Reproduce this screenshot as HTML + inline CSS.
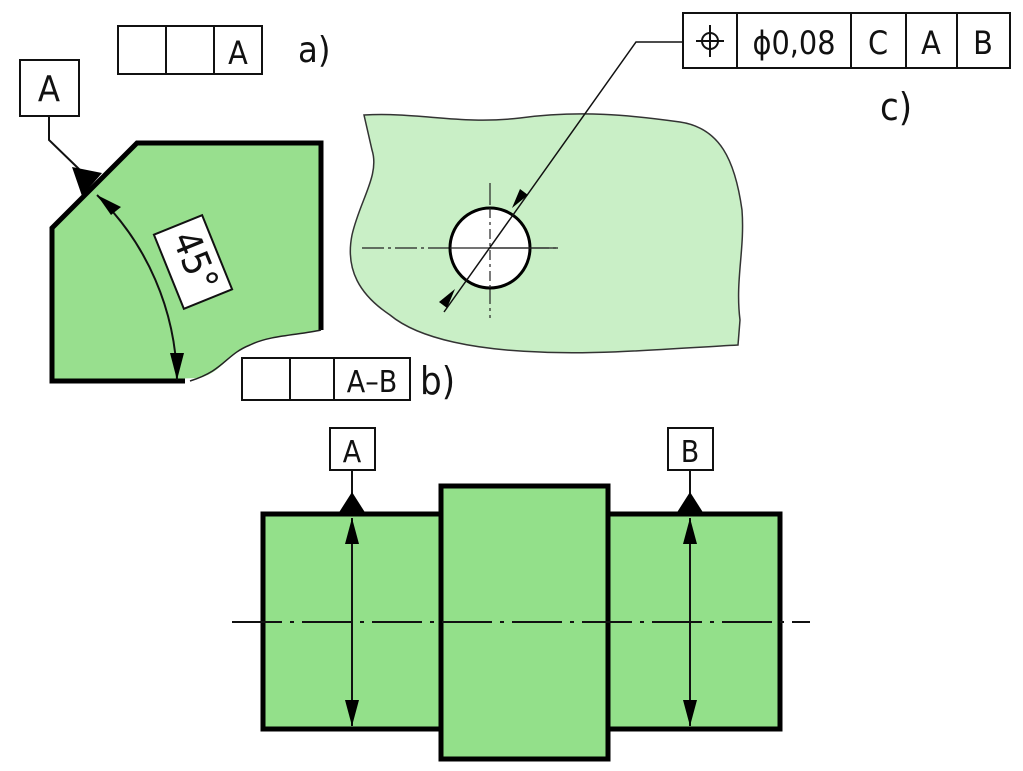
<!DOCTYPE html>
<html><head><meta charset="utf-8"><style>
html,body{margin:0;padding:0;background:#fff;}
svg{display:block;}
text{font-family:"DejaVu Sans Condensed","Liberation Sans",sans-serif;fill:#111;}
</style></head><body>
<svg width="1023" height="771" viewBox="0 0 1023 771" xmlns="http://www.w3.org/2000/svg">
<!-- a) frame -->
<g fill="#fff" stroke="#111" stroke-width="2">
<rect x="118" y="26" width="144" height="48"/>
<line x1="166" y1="26" x2="166" y2="74"/><line x1="214" y1="26" x2="214" y2="74"/>
</g>
<text x="238" y="64" font-size="32" text-anchor="middle">A</text>
<text x="298" y="62" font-size="36" font-family="Liberation Sans">a)</text>

<!-- left part -->
<path d="M52,228 L137,143 L321,143 L321,330 C300,335 270,335 250,345 C225,355 225,370 200,378 L52,382 Z" fill="#98df8e" stroke="none"/>
<path d="M185,381 L52,381 L52,228 L137,143 L321,143 L321,330" fill="none" stroke="#000" stroke-width="5"/>
<path d="M321,330 C300,335 270,335 250,345 C225,355 225,370 190,381" fill="none" stroke="#222" stroke-width="1.5"/>
<rect x="20" y="60" width="59" height="56" fill="#fff" stroke="#111" stroke-width="2"/>
<text x="49" y="101" font-size="36" text-anchor="middle">A</text>
<polyline points="49,116 49,140 80,170" fill="none" stroke="#111" stroke-width="2"/>
<polygon points="72,167 102,173 82,196" fill="#000"/>
<!-- 45 arc -->
<path d="M97,195 A265,265 0 0 1 177,380" fill="none" stroke="#111" stroke-width="2"/>
<polygon points="97,195 121,207 111,215" fill="#000"/>
<polygon points="177,380 170,353 184,353" fill="#000"/>
<g transform="translate(193,262) rotate(-22)">
<rect x="-26" y="-40" width="52" height="80" fill="#fff" stroke="#111" stroke-width="2"/>
<text x="0" y="0" font-size="38" text-anchor="middle" dominant-baseline="middle" transform="rotate(90)">45°</text>
</g>

<!-- b) frame -->
<g fill="#fff" stroke="#111" stroke-width="2">
<rect x="242" y="358" width="168" height="42"/>
<line x1="290" y1="358" x2="290" y2="400"/><line x1="334" y1="358" x2="334" y2="400"/>
</g>
<text x="372" y="392" font-size="30" text-anchor="middle">A–B</text>
<text x="420" y="394" font-size="38" font-family="Liberation Sans">b)</text>

<!-- c) plate -->
<path d="M364,115 C420,112 460,125 520,118 C580,110 630,115 680,122 C720,128 735,160 742,210 C745,250 735,280 740,320 L738,345 C680,348 600,355 540,352 C480,350 420,340 390,315 C360,295 345,270 352,235 C360,200 380,175 372,150 Z" fill="#c9efc6" stroke="#333" stroke-width="1.5"/>
<g stroke="#222" stroke-width="1.2" stroke-dasharray="22,4,3,4">
<line x1="362" y1="248" x2="558" y2="248"/>
<line x1="490" y1="183" x2="490" y2="318"/>
</g>
<circle cx="490" cy="248" r="40" fill="#fff" stroke="#000" stroke-width="3"/>
<line x1="490" y1="248" x2="558" y2="248" stroke="#222" stroke-width="1.2"/>
<line x1="450" y1="248" x2="530" y2="248" stroke="#222" stroke-width="1.2"/>
<line x1="490" y1="208" x2="490" y2="288" stroke="#222" stroke-width="1.2" stroke-dasharray="10,4,3,4"/>
<polyline points="683,42 636,42 444,312" fill="none" stroke="#111" stroke-width="1.5"/>
<polygon points="512,208 528,195 520,189" fill="#000"/>
<polygon points="455,289 447,308 439,302" fill="#000"/>
<g fill="#fff" stroke="#111" stroke-width="2">
<rect x="683" y="13" width="327" height="55"/>
<line x1="737" y1="13" x2="737" y2="68"/><line x1="851" y1="13" x2="851" y2="68"/>
<line x1="906" y1="13" x2="906" y2="68"/><line x1="957" y1="13" x2="957" y2="68"/>
</g>
<circle cx="710" cy="41" r="8" fill="none" stroke="#111" stroke-width="2"/>
<line x1="696" y1="41" x2="724" y2="41" stroke="#111" stroke-width="2"/>
<line x1="710" y1="25" x2="710" y2="57" stroke="#111" stroke-width="2"/>
<text x="794" y="54" font-size="32" text-anchor="middle">ϕ0,08</text>
<text x="878" y="54" font-size="32" text-anchor="middle">C</text>
<text x="931" y="54" font-size="32" text-anchor="middle">A</text>
<text x="983" y="54" font-size="32" text-anchor="middle">B</text>
<text x="880" y="120" font-size="38" font-family="Liberation Sans">c)</text>

<!-- shaft -->
<g fill="#93e08a" stroke="#000" stroke-width="5">
<rect x="263" y="514" width="178" height="215"/>
<rect x="608" y="514" width="172" height="215"/>
<rect x="441" y="486" width="167" height="273"/>
</g>
<line x1="232" y1="622" x2="810" y2="622" stroke="#111" stroke-width="2" stroke-dasharray="50,8,4,8"/>
<g stroke="#111" stroke-width="2">
<line x1="352" y1="518" x2="352" y2="726"/>
<line x1="690" y1="518" x2="690" y2="726"/>
<line x1="352" y1="470" x2="352" y2="500"/>
<line x1="690" y1="470" x2="690" y2="500"/>
</g>
<polygon points="338,514 366,514 352,492" fill="#000"/>
<polygon points="676,514 704,514 690,492" fill="#000"/>
<polygon points="352,518 345,544 359,544" fill="#000"/>
<polygon points="352,726 345,700 359,700" fill="#000"/>
<polygon points="690,518 683,544 697,544" fill="#000"/>
<polygon points="690,726 683,700 697,700" fill="#000"/>
<rect x="330" y="428" width="45" height="42" fill="#fff" stroke="#111" stroke-width="2"/>
<rect x="668" y="428" width="45" height="42" fill="#fff" stroke="#111" stroke-width="2"/>
<text x="352" y="462" font-size="30" text-anchor="middle">A</text>
<text x="690" y="462" font-size="30" text-anchor="middle">B</text>
</svg>
</body></html>
